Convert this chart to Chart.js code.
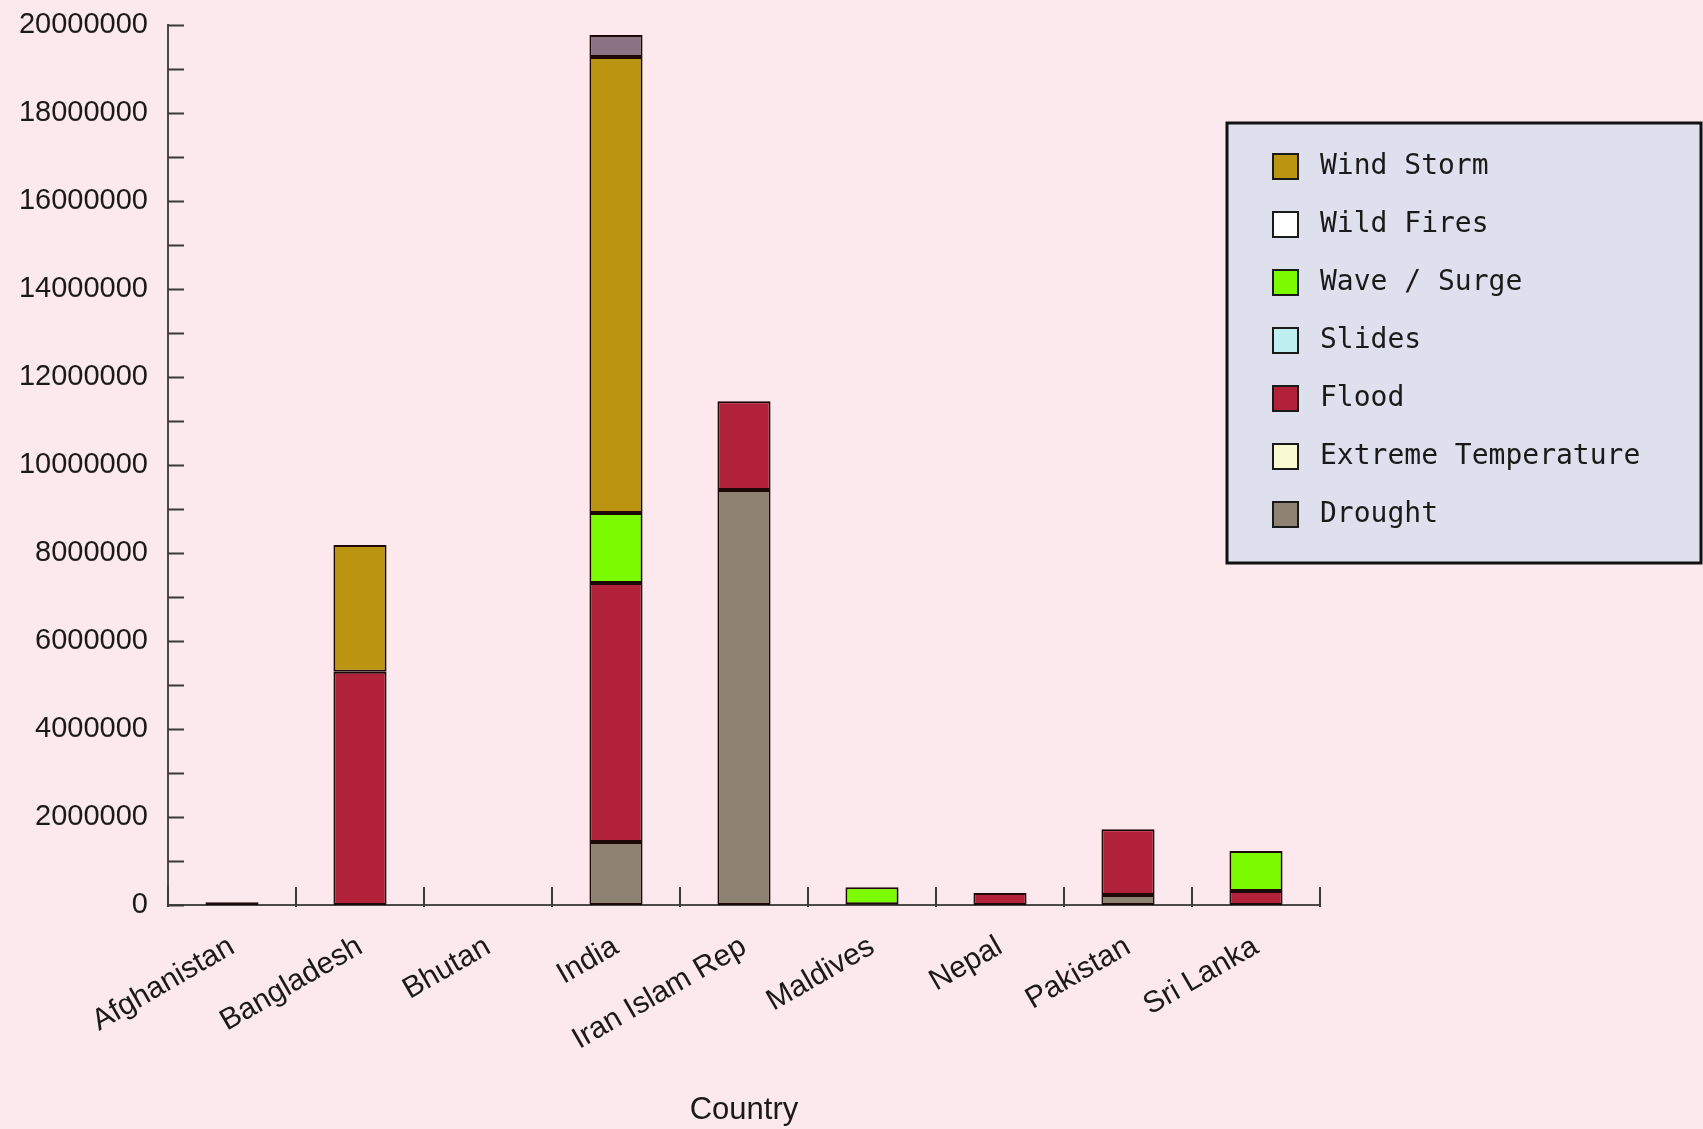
<!DOCTYPE html>
<html>
<head>
<meta charset="utf-8">
<script src="https://cdn.jsdelivr.net/npm/chart.js@4.4.1/dist/chart.umd.min.js"></script>
<style>
  html, body { margin: 0; padding: 0; background: #fbe9ed; }
  #wrap { width: 1703px; height: 1129px; position: relative; }
</style>
</head>
<body>
<div id="wrap"><canvas id="c" width="1703" height="1129"></canvas></div>
<script>
// People affected by disaster type, per country
const countries = ['Afghanistan', 'Bangladesh', 'Bhutan', 'India', 'Iran Islam Rep', 'Maldives', 'Nepal', 'Pakistan', 'Sri Lanka'];

const drought            = [60000,       0, 0,  1430000, 9430000,      0,      0,  230000,      0];
const extremeTemperature = [0,           0, 0,        0,       0,      0,      0,       0,      0];
const flood              = [0,     5300000, 0,  5890000, 2020000,      0, 270000, 1490000, 320000];
const slides             = [0,           0, 0,        0,       0,  15000,      0,       0,      0];
const waveSurge          = [0,           0, 0,  1590000,       0, 390000,      0,       0, 910000];
const wildFires          = [0,           0, 0,        0,       0,      0,      0,       0,      0];
const windStorm          = [0,     2880000, 0, 10360000,       0,      0,      0,       0,      0];
const otherTypes         = [0,           0, 0,   500000,       0,      0,      0,       0,      0];

// Value axis
const yMin = 0;
const yMax = 20000000;
const yTickStep = 1000000;
const yLabelStep = 2000000;
const xTitle = 'Country';

const seriesLabels = ['Drought', 'Extreme Temperature', 'Flood', 'Slides', 'Wave / Surge', 'Wild Fires', 'Wind Storm', 'Other'];
const seriesValues = [drought, extremeTemperature, flood, slides, waveSurge, wildFires, windStorm, otherTypes];
const seriesColors = ['#8e8372', '#fafad2', '#b1213a', '#bfeff0', '#7cfc00', '#ffffff', '#bb9512', '#8a7484'];
const legendHidden = ['Other'];

const datasets = seriesLabels.map((label, i) => ({
  label: label,
  data: seriesValues[i],
  backgroundColor: seriesColors[i],
  borderColor: '#1e0808',
  borderWidth: 2,
  borderSkipped: false,
  barPercentage: 0.415,
  categoryPercentage: 1.0
}));

// Short tick marks pointing into the plot area
const inwardTicks = {
  id: 'inwardTicks',
  afterDatasetsDraw(chart) {
    const ctx = chart.ctx;
    const { left, bottom } = chart.chartArea;
    const y = chart.scales.y;
    const x = chart.scales.x;
    ctx.save();
    ctx.strokeStyle = '#3a3a3a';
    ctx.lineWidth = 2;
    ctx.beginPath();
    y.ticks.forEach(t => {
      const py = Math.round(y.getPixelForValue(t.value)) + 0.5;
      ctx.moveTo(left, py);
      ctx.lineTo(left + 16, py);
    });
    for (let i = 0; i <= countries.length; i++) {
      const px = Math.round(x.getPixelForValue(i - 0.5));
      ctx.moveTo(px, bottom + 2);
      ctx.lineTo(px, bottom - 18);
    }
    ctx.stroke();
    ctx.restore();
  }
};

// Boxed legend in the upper right
const boxLegend = {
  id: 'boxLegend',
  afterDraw(chart) {
    const ctx = chart.ctx;
    const bx = 1227, by = 123, bw = 474, bh = 440;
    ctx.save();
    ctx.fillStyle = '#dfe0ed';
    ctx.fillRect(bx, by, bw, bh);
    ctx.lineWidth = 3;
    ctx.strokeStyle = '#111111';
    ctx.strokeRect(bx, by, bw, bh);
    const items = chart.data.datasets.filter(d => !legendHidden.includes(d.label)).slice().reverse();
    ctx.font = '28px "DejaVu Sans Mono", monospace';
    ctx.textBaseline = 'middle';
    ctx.textAlign = 'left';
    items.forEach((d, i) => {
      const cy = by + 43 + i * 58;
      ctx.fillStyle = d.backgroundColor;
      ctx.fillRect(1273, cy - 12, 25, 25);
      ctx.lineWidth = 2;
      ctx.strokeStyle = '#1a1a1a';
      ctx.strokeRect(1273, cy - 12, 25, 25);
      ctx.fillStyle = '#1a1a1a';
      ctx.fillText(d.label, 1320, cy + 1);
    });
    ctx.restore();
  }
};

new Chart(document.getElementById('c'), {
  type: 'bar',
  data: { labels: countries, datasets: datasets },
  options: {
    responsive: false,
    animation: false,
    devicePixelRatio: 1,
    layout: { padding: { top: 25, right: 383, left: 0, bottom: 0 } },
    plugins: {
      legend: { display: false },
      tooltip: { enabled: false }
    },
    scales: {
      x: {
        stacked: true,
        grid: { display: false },
        border: { display: true, color: '#4a4a4a', width: 2 },
        ticks: {
          color: '#1a1a1a',
          font: { family: '"Liberation Sans", Arial, sans-serif', size: 30 },
          minRotation: 30,
          maxRotation: 30,
          autoSkip: false,
          padding: 16
        },
        title: {
          display: true,
          text: xTitle,
          color: '#1a1a1a',
          font: { family: '"Liberation Sans", Arial, sans-serif', size: 31 },
          padding: { top: 0, bottom: 0 }
        },
        afterFit(scale) { scale.height = 224; }
      },
      y: {
        stacked: true,
        min: yMin,
        max: yMax,
        grid: { display: false, drawTicks: false },
        border: { display: true, color: '#4a4a4a', width: 2 },
        ticks: {
          stepSize: yTickStep,
          autoSkip: false,
          color: '#1a1a1a',
          padding: 20,
          font: { family: '"Liberation Sans", Arial, sans-serif', size: 29 },
          callback: v => (v % yLabelStep === 0 ? String(v) : '')
        },
        afterFit(scale) { scale.width = 168; scale.paddingTop = 0; }
      }
    }
  },
  plugins: [inwardTicks, boxLegend]
});
</script>
</body>
</html>
